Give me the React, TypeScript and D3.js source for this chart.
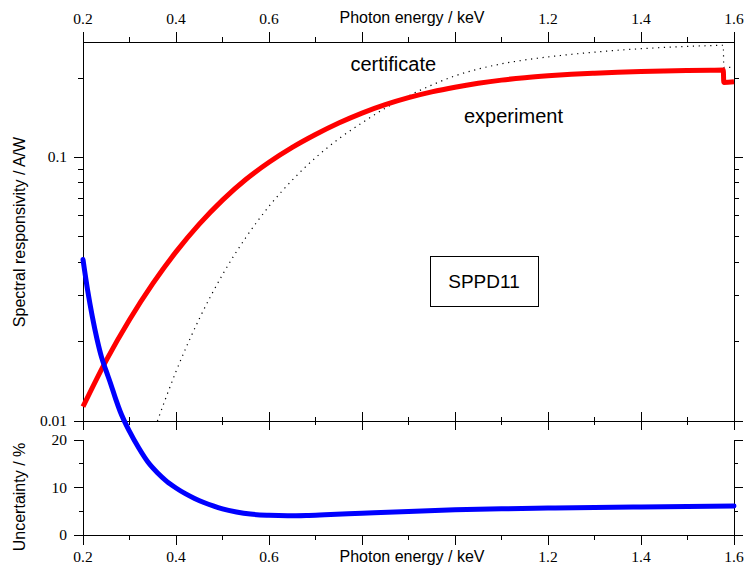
import React from 'react'
import * as d3 from 'd3'

// photon energy grid (keV) and readings
const expEnergy = [0.2, 0.25, 0.3, 0.35, 0.4, 0.45, 0.5, 0.55, 0.6, 0.65, 0.7, 0.75, 0.8, 0.85, 0.9, 0.95, 1.0, 1.05, 1.1, 1.15, 1.2, 1.25, 1.3, 1.35, 1.4, 1.45, 1.5, 1.55, 1.577, 1.578, 1.6]
const expResp = [0.01133, 0.01698, 0.02423, 0.03319, 0.04381, 0.05583, 0.06888, 0.08246, 0.0958, 0.1091, 0.1221, 0.135, 0.1473, 0.1585, 0.1685, 0.1772, 0.1846, 0.191, 0.1964, 0.2006, 0.2039, 0.2066, 0.2086, 0.2103, 0.2117, 0.2127, 0.2135, 0.2142, 0.2145, 0.1925, 0.1935]

const certEnergy = [0.36, 0.4, 0.45, 0.5, 0.55, 0.6, 0.65, 0.7, 0.75, 0.8, 0.85, 0.9, 0.95, 1.0, 1.05, 1.1, 1.15, 1.2, 1.25, 1.3, 1.35, 1.4, 1.45, 1.5, 1.55, 1.577, 1.578, 1.6]
const certResp = [0.01, 0.0154, 0.0244, 0.0359, 0.0496, 0.0652, 0.082, 0.0997, 0.1176, 0.1352, 0.1537, 0.1711, 0.1881, 0.2038, 0.2164, 0.2264, 0.2342, 0.2405, 0.246, 0.2508, 0.255, 0.2584, 0.2613, 0.2636, 0.2655, 0.2663, 0.2195, 0.22]

const uncEnergy = [0.2, 0.21, 0.22, 0.23, 0.24, 0.25, 0.26, 0.27, 0.28, 0.3, 0.32, 0.34, 0.36, 0.38, 0.4, 0.42, 0.44, 0.46, 0.48, 0.5, 0.53, 0.56, 0.6, 0.64, 0.68, 0.72, 0.8, 0.9, 1.0, 1.1, 1.2, 1.3, 1.4, 1.5, 1.6]
const uncPct = [58.0, 51.5, 46.0, 41.3, 37.4, 34.5, 31.7, 28.7, 26.0, 21.8, 18.3, 15.3, 13.1, 11.3, 9.9, 8.7, 7.7, 6.85, 6.12, 5.5, 4.85, 4.4, 4.15, 4.06, 4.12, 4.26, 4.58, 4.97, 5.3, 5.51, 5.66, 5.8, 5.91, 6.01, 6.1]

const xMajor = [0.2, 0.4, 0.6, 0.8, 1.0, 1.2, 1.4, 1.6]
const xMinor = [0.3, 0.5, 0.7, 0.9, 1.1, 1.3, 1.5]
const xLabels = [0.2, 0.4, 0.6, 1.2, 1.4, 1.6]
const uncTicks = [0, 5, 10, 15, 20]
const uncLabels = [0, 10, 20]

const W = 746
const H = 567
const L = 83
const R = 734
const topY = 42
const midY = 421
const botTop = 440
const botY = 535

const sans = 'Liberation Sans, Arial, sans-serif'
const serif = 'Liberation Serif, Times New Roman, serif'

export default function App() {
  const x = d3.scaleLinear().domain([0.2, 1.6]).range([L, R])
  const yResp = d3.scaleLog().domain([0.01, 0.274]).range([midY, topY])
  const yUnc = d3.scaleLinear().domain([0, 20]).range([botY, botTop])

  const expPath = d3.line<number>().x(d => x(d)).y((d, i) => yResp(expResp[i])).curve(d3.curveMonotoneX)(expEnergy)
  const certPath = d3.line<number>().x(d => x(d)).y((d, i) => yResp(certResp[i])).curve(d3.curveMonotoneX)(certEnergy)
  const uncPath = d3.line<number>().x(d => x(d)).y((d, i) => yUnc(uncPct[i])).curve(d3.curveMonotoneX)(uncEnergy)

  const logTicks = yResp.ticks()
  const isMajor = (v: number) => Math.abs(Math.log10(v) - Math.round(Math.log10(v))) < 1e-6

  const ln = { stroke: '#000', strokeWidth: 1, shapeRendering: 'crispEdges' as const }

  return (
    <svg width={W} height={H} style={{ position: 'absolute', left: 0, top: 0, background: '#fff' }}>
      {/* frame lines */}
      <line x1={L} x2={R} y1={topY} y2={topY} {...ln} />
      <line x1={L - 9} x2={R + 9} y1={midY} y2={midY} {...ln} />
      <line x1={L} x2={L} y1={topY - 10} y2={midY + 9} {...ln} />
      <line x1={R} x2={R} y1={topY - 10} y2={midY + 9} {...ln} />
      <line x1={L} x2={R} y1={botY} y2={botY} {...ln} />
      <line x1={L} x2={L} y1={botTop} y2={botY + 10} {...ln} />
      <line x1={R} x2={R} y1={botTop} y2={botY + 10} {...ln} />

      {/* top axis ticks (outward) */}
      {xMajor.map(v => <line key={'tM' + v} x1={x(v)} x2={x(v)} y1={topY - 10} y2={topY} {...ln} />)}
      {xMinor.map(v => <line key={'tm' + v} x1={x(v)} x2={x(v)} y1={topY - 5} y2={topY} {...ln} />)}
      {/* middle axis ticks (crossing) */}
      {xMajor.map(v => <line key={'mM' + v} x1={x(v)} x2={x(v)} y1={midY - 9} y2={midY + 9} {...ln} />)}
      {xMinor.map(v => <line key={'mm' + v} x1={x(v)} x2={x(v)} y1={midY - 4} y2={midY + 4} {...ln} />)}
      {/* bottom axis ticks (outward) */}
      {xMajor.map(v => <line key={'bM' + v} x1={x(v)} x2={x(v)} y1={botY} y2={botY + 10} {...ln} />)}
      {xMinor.map(v => <line key={'bm' + v} x1={x(v)} x2={x(v)} y1={botY} y2={botY + 5} {...ln} />)}

      {/* log axis ticks, left and right */}
      {logTicks.map(v => {
        const len = isMajor(v) ? 9 : 5
        return (
          <g key={'ly' + v}>
            <line x1={L - len} x2={L} y1={yResp(v)} y2={yResp(v)} {...ln} />
            <line x1={R} x2={R + len} y1={yResp(v)} y2={yResp(v)} {...ln} />
          </g>
        )
      })}
      {/* uncertainty axis ticks */}
      {uncTicks.map(v => {
        const len = v % 10 === 0 ? 9 : 4
        return (
          <g key={'uy' + v}>
            <line x1={L - len} x2={L} y1={yUnc(v)} y2={yUnc(v)} {...ln} />
            <line x1={R} x2={R + len} y1={yUnc(v)} y2={yUnc(v)} {...ln} />
          </g>
        )
      })}

      {/* tick labels */}
      <g fontFamily={serif} fontSize={15.5} fill="#000" textAnchor="middle">
        {xLabels.map(v => <text key={'xt' + v} x={x(v)} y={23.5}>{d3.format('.1f')(v)}</text>)}
        {xLabels.map(v => <text key={'xb' + v} x={x(v)} y={562}>{d3.format('.1f')(v)}</text>)}
      </g>
      <g fontFamily={serif} fontSize={15.5} fill="#000" textAnchor="end">
        {logTicks.filter(isMajor).map(v => <text key={'yl' + v} x={67} y={yResp(v) + 5}>{String(v)}</text>)}
        {uncLabels.map(v => <text key={'ul' + v} x={67} y={yUnc(v) + 5}>{v}</text>)}
      </g>

      {/* axis titles */}
      <g fontFamily={sans} fontSize={16} fill="#000" textAnchor="middle">
        <text x={412} y={23}>Photon energy / keV</text>
        <text x={412} y={562}>Photon energy / keV</text>
        <text transform={`translate(25,232) rotate(-90)`}>Spectral responsivity / A/W</text>
        <text transform={`translate(24.5,497) rotate(-90)`}>Uncertainty / %</text>
      </g>

      {/* curves */}
      <path d={certPath ?? ''} fill="none" stroke="#000" strokeWidth={1.2} strokeDasharray="1.2 4.6" />
      <path d={expPath ?? ''} fill="none" stroke="#ff0000" strokeWidth={5} />
      <path d={uncPath ?? ''} fill="none" stroke="#0000ff" strokeWidth={5} strokeLinecap="round" />

      {/* annotations */}
      <g fontFamily={sans} fontSize={20} fill="#000">
        <text x={350.5} y={70.5}>certificate</text>
        <text x={464} y={123}>experiment</text>
      </g>
      <rect x={430.5} y={256.5} width={108} height={50} fill="#fff" stroke="#000" strokeWidth={1} />
      <text x={484} y={288} fontFamily={sans} fontSize={19} textAnchor="middle" fill="#000">SPPD11</text>
    </svg>
  )
}
